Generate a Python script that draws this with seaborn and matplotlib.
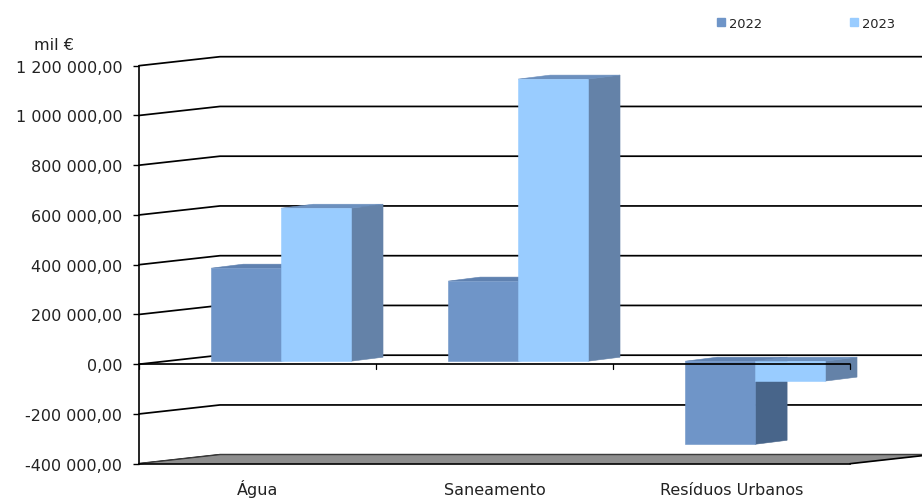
import matplotlib
matplotlib.use("Agg")
import matplotlib.pyplot as plt
import numpy as np
import pandas as pd
import seaborn as sns
from matplotlib.lines import Line2D
from matplotlib.patches import Polygon
from matplotlib.transforms import Affine2D, IdentityTransform

categories = ["Água", "Saneamento", "Resíduos Urbanos"]
values_2022 = [374000, 322000, -334000]
values_2023 = [615000, 1134000, -80000]
y_ticks = [-400000, -200000, 0, 200000, 400000, 600000, 800000, 1000000, 1200000]
y_labels = ["-400 000,00", "-200 000,00", "0,00", "200 000,00", "400 000,00",
            "600 000,00", "800 000,00", "1 000 000,00", "1 200 000,00"]

COL_2022, COL_2023 = "#6F95C8", "#99CCFF"
TOPS = {"2022": "#5F81B0", "2023": "#6C90BE"}
SIDES = {"2022": "#48658A", "2023": "#6482A8"}
W, H = 922, 502
DEPTH = (81, 9)          # wall depth in pixels
BAR_SHIFT = (23.6, 3)    # bars stand this far behind the front plane
BAR_DEPTH = (32, 4)
TXT = "#222222"
FS = 11.5

sns.set_style("white")
plt.rcParams["font.family"] = ["DejaVu Sans"]

df = pd.DataFrame({
    "cat": categories * 2,
    "val": values_2022 + values_2023,
    "year": ["2022"] * 3 + ["2023"] * 3,
})

fig = plt.figure(figsize=(W / 100, H / 100), dpi=100, facecolor="white")
ax = fig.add_axes([139 / W, 1 - 464.7 / H, (850 - 139) / W, (464 - 66) / H])
sns.barplot(data=df, x="cat", y="val", hue="year", hue_order=["2022", "2023"],
            palette=[COL_2022, COL_2023], saturation=1, width=0.59, dodge=True,
            gap=0, errorbar=None, ax=ax, linewidth=0)
ax.set_xlim(-0.5, 2.5)
ax.set_ylim(-400000, 1200000)
ax.set_xlabel("")
ax.set_ylabel("")
ax.set_yticks(y_ticks, y_labels)
ax.patch.set_alpha(0)
for s in ("top", "right"):
    ax.spines[s].set_visible(False)
for s in ("left", "bottom"):
    ax.spines[s].set_color("black")
    ax.spines[s].set_linewidth(1.2)
    ax.spines[s].set_zorder(6)
ax.tick_params(axis="y", left=True, length=4, width=1, color="black", pad=8,
               labelsize=FS, labelcolor=TXT)
ax.tick_params(axis="x", bottom=False, length=0, pad=22, labelsize=FS, labelcolor=TXT)
for lab in ax.get_xticklabels():
    lab.set_verticalalignment("baseline")

fig.canvas.draw()
to_px = ax.transData.transform
ident = IdentityTransform()


def add_poly(points, color, z):
    ax.add_patch(Polygon(points, closed=True, facecolor=color, edgecolor=color, linewidth=0.4,
                         transform=ident, clip_on=False, zorder=z))


# Walls: each gridline runs back along the side wall, then along the back wall
for t in y_ticks:
    x0, y0 = to_px((-0.5, t))
    xb, yb = x0 + DEPTH[0], y0 + DEPTH[1]
    ax.add_line(Line2D([x0, xb, W + 5], [y0, yb, yb], color="black", lw=1.25,
                       transform=ident, clip_on=False, zorder=1))

# Floor
xl, yf = to_px((-0.5, y_ticks[0]))
xr, _ = to_px((2.5, y_ticks[0]))
add_poly([(xl, yf), (xl + DEPTH[0], yf + DEPTH[1]), (xr + DEPTH[0], yf + DEPTH[1]), (xr, yf)],
         "#8E8E8E", 1.5)
ax.add_line(Line2D([xl, xl + DEPTH[0], xr + DEPTH[0]], [yf, yf + DEPTH[1], yf + DEPTH[1]],
                   color="#333333", lw=0.7, transform=ident, clip_on=False, zorder=1.6))
ax.add_line(Line2D([xr, xr + DEPTH[0]], [yf, yf + DEPTH[1]], color="black", lw=1.2,
                   transform=ident, clip_on=False, zorder=1.6))

# 3D bar faces, taken from the bars seaborn drew
shift = Affine2D().translate(*BAR_SHIFT)
for i, (cont, yr) in enumerate(zip(ax.containers, ["2022", "2023"])):
    base_z = 3 + i
    for bar in cont:
        x1, x2 = bar.get_x(), bar.get_x() + bar.get_width()
        lo, hi = sorted((bar.get_y(), bar.get_y() + bar.get_height()))
        (ax1, ylo), (ax2, yhi) = to_px((x1, lo)), to_px((x2, hi))
        ax1, ax2 = ax1 + BAR_SHIFT[0], ax2 + BAR_SHIFT[0]
        ylo, yhi = ylo + BAR_SHIFT[1], yhi + BAR_SHIFT[1]
        dx, dy = BAR_DEPTH
        add_poly([(ax2, ylo), (ax2 + dx, ylo + dy), (ax2 + dx, yhi + dy), (ax2, yhi)],
                 SIDES[yr], base_z)
        add_poly([(ax1, yhi), (ax2, yhi), (ax2 + dx, yhi + dy), (ax1 + dx, yhi + dy)],
                 TOPS[yr], base_z)
        bar.set_transform(ax.transData + shift)
        bar.set_clip_on(False)
        bar.set_edgecolor(bar.get_facecolor())
        bar.set_linewidth(0.4)
        bar.set_zorder(base_z + 0.5)

# Front zero line with its category ticks
x0, y0 = to_px((-0.5, 0))
x3, _ = to_px((2.5, 0))
ax.add_line(Line2D([x0, x3], [y0, y0], color="black", lw=1.25, transform=ident,
                   clip_on=False, zorder=6))
for pos in np.arange(len(categories) + 1) - 0.5:
    xp, yp = to_px((pos, 0))
    ax.add_line(Line2D([xp, xp], [yp, yp - 5], color="black", lw=0.9, transform=ident,
                       clip_on=False, zorder=6))

fig.text(34 / W, 1 - 46 / H, "mil €", fontsize=FS, color=TXT, ha="left", va="center")

handles = [plt.Rectangle((0, 0), 1, 1, color=COL_2022), plt.Rectangle((0, 0), 1, 1, color=COL_2023)]
ax.get_legend().remove() if ax.get_legend() else None
fig.legend(handles, ["2022", "2023"], ncol=2, frameon=False, loc="center left",
           bbox_to_anchor=(717 / W, 1 - 24 / H), fontsize=9.4, labelcolor=TXT,
           handlelength=0.62, handleheight=0.62, handletextpad=0.3, columnspacing=6.75,
           borderpad=0, borderaxespad=0)

fig.savefig("out.png", dpi=100, facecolor="white")
